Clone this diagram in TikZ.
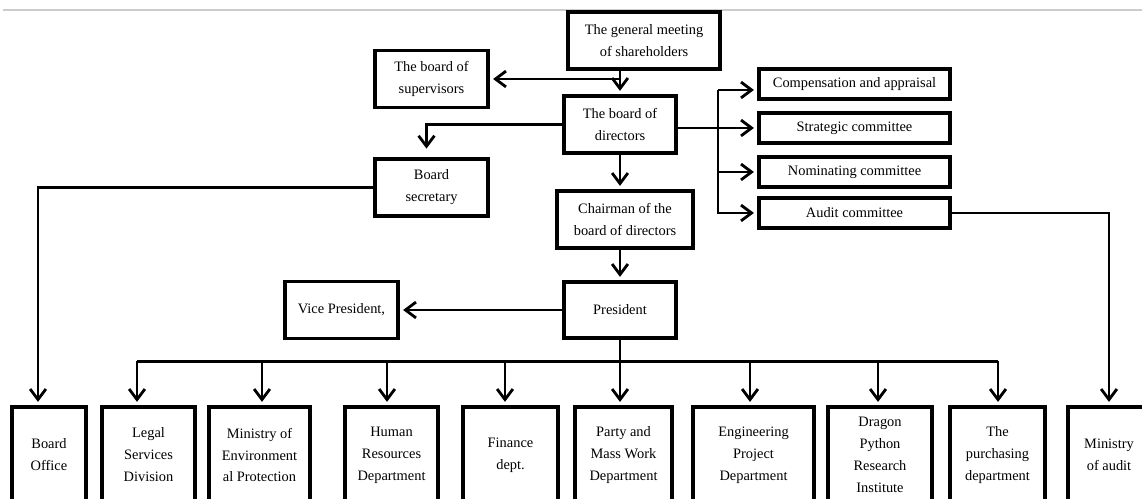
\documentclass[tikz,border=0pt]{standalone}
\usepackage{fontspec}
\setmainfont{Liberation Serif}
\usetikzlibrary{arrows.meta,calc}

\tikzset{
  box/.style 2 args={draw,line width=1.8pt,minimum width=#1*0.02cm,minimum height=#2*0.02cm,inner sep=1pt,align=center,font=\fontsize{8.2}{12.5}\selectfont},
  link/.style={line width=1.6pt},
  arr/.style={link,-{Straight Barb[length=6pt,width=9pt]},shorten >=2pt},
}

\begin{document}
\begin{tikzpicture}[x=0.02cm,y=-0.02cm]
        \useasboundingbox (0,0) rectangle (1142,499);
        \clip (0,0) rectangle (1142,499);
        \draw[gray!40,line width=0.6pt] (3,10) -- (1142,10);
        \node[box={152}{57}] (meeting) at (644,40.5) {The general meeting\\of shareholders};
        \node[box={113}{57}] (supervisors) at (431.5,79) {The board of\\supervisors};
        \node[box={112}{57}] (directors) at (620,124.5) {The board of\\directors};
        \node[box={113}{57}] (secretary) at (431.5,187.5) {Board\\secretary};
        \node[box={136}{57}] (chairman) at (625,219.5) {Chairman of the\\board of directors};
        \node[box={112}{56}] (president) at (620,310) {President};
        \node[box={113}{57}] (vice) at (341.5,310) {Vice President,};
        \node[box={191}{30}] (comp) at (854.5,84) {Compensation and appraisal};
        \node[box={191}{30}] (strategic) at (854.5,128) {Strategic committee};
        \node[box={191}{30}] (nominating) at (854.5,172) {Nominating committee};
        \node[box={191}{30}] (auditc) at (854.5,213) {Audit committee};
        \node[box={74}{96}] (office) at (49,455) {Board\\Office};
        \node[box={93}{96}] (legal) at (148.5,455) {Legal\\Services\\Division};
        \node[box={101}{96}] (environment) at (259.5,455) {Ministry of\\Environment\\al Protection};
        \node[box={93}{96}] (hr) at (391.5,455) {Human\\Resources\\Department};
        \node[box={95}{96}] (finance) at (510.5,455) {Finance\\dept.};
        \node[box={97}{96}] (party) at (623.5,455) {Party and\\Mass Work\\Department};
        \node[box={121}{96}] (engineering) at (753.5,455) {Engineering\\Project\\Department};
        \node[box={104}{96}] (dragon) at (880,455) {Dragon\\Python\\Research\\Institute};
        \node[box={95}{96}] (purchasing) at (997.5,455) {The\\purchasing\\department};
        \node[box={82}{96}] (auditm) at (1109,455) {Ministry\\of audit};

        \draw[arr] (directors.north |- meeting.south) -- (directors.north);
        \draw[arr] (directors.north |- supervisors.east) -- (supervisors.east);
        \draw[arr,shorten >=5pt] (directors.west) -| ($(secretary.north)+(-5,0)$);
        \draw[arr] (secretary.west) -| ($(office.north)+(-11,0)$);
        \coordinate (cb) at (718,90);
        \draw[arr] (cb) -- (cb -| comp.west);
        \draw[arr] (cb) |- (auditc.west);
        \draw[arr] (directors.east |- strategic.west) -- (strategic.west);
        \draw[arr] (cb |- nominating.west) -- (nominating.west);
        \draw[arr] (auditc.east) -| (auditm.north);
        \draw[arr] (directors.south) -- (directors.south |- chairman.north);
        \draw[arr] (president.north |- chairman.south) -- (president.north);
        \draw[arr] (president.west) -- (vice.east);
        \coordinate (bus) at (620,363);
        \draw[link] (president.south) -- (president.south |- bus);
        \draw[link] ($(legal.north)+(-11.5,-44)$) -- ($(purchasing.north)+(0.5,-44)$);
        \foreach \n/\dx in {legal/-11.5,environment/2.5,hr/-4.5,finance/-5.5,party/-3.5,engineering/-3.5,dragon/-2,purchasing/0.5}
          \draw[arr] ($(\n.north)+(\dx,-44)$) -- ($(\n.north)+(\dx,0)$);
    \end{tikzpicture}
\end{document}
